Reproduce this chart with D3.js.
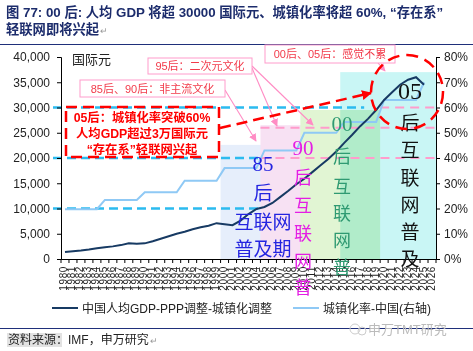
<!DOCTYPE html>
<html><head><meta charset="utf-8">
<script src="https://cdn.jsdelivr.net/npm/d3@7"></script>
<style>
html,body{margin:0;padding:0;background:#fff;}
svg{display:block;font-family:"Liberation Sans","Noto Sans CJK SC",sans-serif;}
</style></head>
<body><svg id="c" width="473" height="351"></svg>
<script>
// ---- data ----
const years = ["1980","1981","1982","1983","1984","1985","1986","1987","1988","1989",
"1990","1991","1992","1993","1994","1995","1996","1997","1998","1999",
"2000","2001","2002","2003","2004","2005","2006","2007","2008","2009",
"2010","2011","2012","2013","2014","2015","2016","2017","2018","2019",
"2020","2021","2022","2023","2024","2025","2026"];
const gdp = [1400,1550,1700,1900,2150,2350,2500,2750,3100,3000,
3100,3500,4000,4500,5000,5400,5900,6300,6600,7100,
6900,6700,7600,8900,9900,10300,11100,12300,13500,14800,
15900,17200,18500,19800,21300,23000,24600,26300,27800,29500,
31500,33000,34500,35500,36000,34500];
const urban = [0.197,0.197,0.197,0.197,0.197,0.234,0.234,0.234,0.234,0.234,
0.264,0.264,0.264,0.264,0.264,0.310,0.310,0.310,0.310,0.310,
0.360,0.360,0.360,0.360,0.360,0.430,0.430,0.430,0.430,0.430,
0.500,0.500,0.500,0.500,0.500,0.543,0.543,0.543,0.543,0.543,
0.630,0.630,0.630,0.630,0.630,0.700];
const leftTicks = [0,5000,10000,15000,20000,25000,30000,35000,40000];
const rightTicks = [0,0.1,0.2,0.3,0.4,0.5,0.6,0.7,0.8];
const eraName = ["85","90","00","05"];
const eraStart = ["2000","2005","2010","2015"];
const eraEnd = ["2004","2009","2019","2026"];
const eraTop = [22600,26500,29500,37000];
const cyanLevels = [30000,20000,10000];
const pinkLevels = [30000,26000,20000];
const seriesNames = ["中国人均GDP-PPP调整-城镇化调整","城镇化率-中国(右轴)"];

// ---- setup ----
const svg = d3.select("#c");
const L=61, R=436, T=57, B=259;
const x = d3.scaleBand().domain(years).range([L,R]).padding(0);
const yL = d3.scaleLinear().domain([0,40000]).range([B,T]);
const yR = d3.scaleLinear().domain([0,0.8]).range([B,T]);
const xl = y => x(y);
const xr = y => x(y)+x.bandwidth();
const xc = y => x(y)+x.bandwidth()/2;

const navy="#1f2f7a";
// title
const title = svg.append("g").attr("font-weight","bold").attr("fill","#1c2c6c").attr("font-size",13.3);
title.append("text").attr("x",6).attr("y",17).text("图 77: 00 后: 人均 GDP 将超 30000 国际元、城镇化率将超 60%, “存在系”");
title.append("text").attr("x",6).attr("y",34).text("轻联网即将兴起");
svg.append("text").attr("x",100).attr("y",34).attr("font-size",9).attr("fill","#999").text("↵");
svg.append("line").attr("x1",0).attr("x2",473).attr("y1",44.5).attr("y2",44.5).attr("stroke",navy).attr("stroke-width",1.2);

// era bands
const bandFill = ["#e6eefb","#f7e1f3","#e1f5d3","#c9f6f5"];
const order=[0,1,3,2];
order.forEach(i=>{
  svg.append("rect").attr("x",xl(eraStart[i])).attr("width",xr(eraEnd[i])-xl(eraStart[i]))
    .attr("y",yL(eraTop[i])).attr("height",B-yL(eraTop[i]))
    .attr("fill",bandFill[i]).style("mix-blend-mode","multiply");
});

// dashed reference lines
const cyanEnd=[xl("2019")-8, xr("2004"), xr("2004")];
cyanLevels.forEach((v,i)=>{
  svg.append("line").attr("x1",53).attr("x2",cyanEnd[i]).attr("y1",yL(v)).attr("y2",yL(v))
   .attr("stroke","#2bbbef").attr("stroke-width",2.5).attr("stroke-dasharray","9,5");
});
const pinkStart=[xl("2020"), xl("2005"), xl("2005")];
pinkLevels.forEach((v,i)=>{
  svg.append("line").attr("x1",pinkStart[i]).attr("x2",R).attr("y1",yL(v)).attr("y2",yL(v))
   .attr("stroke","#ff9ccc").attr("stroke-width",2).attr("stroke-dasharray","9,6");
});

// axes
const axL = svg.append("g").attr("transform",`translate(${L},0)`)
  .call(d3.axisLeft(yL).tickValues(leftTicks).tickFormat(d3.format(",")).tickSize(4).tickPadding(7));
const axR = svg.append("g").attr("transform",`translate(${R},0)`)
  .call(d3.axisRight(yR).tickValues(rightTicks).tickFormat(d3.format(".0%")).tickSize(4).tickPadding(4));
[axL,axR].forEach(a=>{
  a.select(".domain").attr("stroke","#000");
  a.selectAll("line").attr("stroke","#000");
  a.selectAll("text").attr("font-size",12).attr("fill","#222").attr("font-family","Liberation Sans, sans-serif");
});
svg.append("line").attr("x1",L).attr("x2",R).attr("y1",B+0.5).attr("y2",B+0.5).attr("stroke","#000");
svg.append("g").selectAll("line").data(years.concat(["end"])).join("line")
  .attr("x1",d=>d==="end"?R:xl(d)).attr("x2",d=>d==="end"?R:xl(d))
  .attr("y1",B).attr("y2",B+4).attr("stroke","#000");
svg.append("g").selectAll("text").data(years).join("text")
  .attr("transform",d=>`translate(${xc(d)+2.5},${B+7}) rotate(-90)`)
  .attr("text-anchor","end").attr("font-size",10).attr("fill","#222")
  .attr("letter-spacing",0.6).text(d=>d);

svg.append("text").attr("x",72).attr("y",64).attr("font-size",13).attr("fill","#222").text("国际元");

// lines
const gdpLine = d3.line().x((d,i)=>xc(years[i])).y(d=>yL(d));
const urbLine = d3.line().x((d,i)=>xc(years[i])).y(d=>yR(d));
svg.append("path").datum(urban).attr("d",urbLine).attr("fill","none").attr("stroke","#8fc9f5").attr("stroke-width",2);
svg.append("path").datum(gdp).attr("d",gdpLine).attr("fill","none").attr("stroke","#173a63").attr("stroke-width",2);

// era column labels
const colTexts = [
 {c:"#2424e0",x:263,fs:19,items:[["85",171,21],["后",200],["互联网",229],["普及期",256]]},
 {c:"#e41ee4",x:303,fs:18,items:[["90",155,21],["后",184],["互",212],["联",240],["网",268],["普",294]]},
 {c:"#2f9a72",x:342,fs:18,items:[["00",131,21],["后",163],["互",193],["联",220],["网",247],["普",274]]},
 {c:"#111",x:410,fs:19,items:[["05",99,24],["后",130],["互",157],["联",185],["网",212],["普",239],["及",266]]}
];
colTexts.forEach(col=>{
  col.items.forEach(it=>{
    svg.append("text").attr("x",col.x).attr("y",it[1]).attr("text-anchor","middle")
      .attr("font-size",it[2]||col.fs).attr("fill",col.c)
      .attr("font-family","Liberation Serif, Noto Sans CJK SC, serif").text(it[0]);
  });
});

// defs arrows
const defs=svg.append("defs");
defs.append("marker").attr("id","ap").attr("viewBox","0 0 10 10").attr("refX",9).attr("refY",5)
 .attr("markerWidth",7).attr("markerHeight",7).attr("orient","auto")
 .append("path").attr("d","M0,0L10,5L0,10z").attr("fill","#ff8cc4");
defs.append("marker").attr("id","ar").attr("viewBox","0 0 10 10").attr("refX",9).attr("refY",5)
 .attr("markerWidth",4).attr("markerHeight",4).attr("orient","auto")
 .append("path").attr("d","M0,0L10,5L0,10z").attr("fill","#ff0000");

// pink arrows
const pinkArrows=[[225,90,256,141],[252,68,277,126],[252,66,313,125],[378,63,385,71]];
pinkArrows.forEach(a=>{
  svg.append("line").attr("x1",a[0]).attr("y1",a[1]).attr("x2",a[2]).attr("y2",a[3])
   .attr("stroke","#ff8cc4").attr("stroke-width",1.1).attr("marker-end","url(#ap)");
});

// annotation boxes
function box(x0,y0,w,h,txt){
  svg.append("rect").attr("x",x0).attr("y",y0).attr("width",w).attr("height",h)
   .attr("fill","#fff").attr("stroke","#ff9ccc").attr("stroke-width",1);
  svg.append("text").attr("x",x0+w/2).attr("y",y0+h/2+4).attr("text-anchor","middle")
   .attr("font-size",11).attr("fill","#f23a4a").text(txt);
}
box(148,58,104,16,"95后：二次元文化");
box(80,80,145,17,"85后、90后：非主流文化");
box(265,45,130,18,"00后、05后：感觉不累");

// red dashed box + arrow + ellipse
svg.append("rect").attr("x",66).attr("y",107).attr("width",153).attr("height",50)
  .attr("fill","none").attr("stroke","#ff0000").attr("stroke-width",2.5).attr("stroke-dasharray","11,6");
const rt = svg.append("g").attr("fill","#ff0000").attr("font-weight","bold").attr("font-size",12.3).attr("text-anchor","middle");
rt.append("text").attr("x",142).attr("y",122).text("05后：城镇化率突破60%");
rt.append("text").attr("x",142).attr("y",138).text("人均GDP超过3万国际元");
rt.append("text").attr("x",142).attr("y",154).text("“存在系”轻联网兴起");
svg.append("line").attr("x1",220).attr("y1",128).attr("x2",371).attr("y2",93)
  .attr("stroke","#ff0000").attr("stroke-width",2.5).attr("stroke-dasharray","11,6").attr("marker-end","url(#ar)");
svg.append("ellipse").attr("cx",407).attr("cy",92).attr("rx",36).attr("ry",37)
  .attr("fill","none").attr("stroke","#ff0000").attr("stroke-width",2.5).attr("stroke-dasharray","12,7");

// legend
const lg = svg.append("g").attr("font-size",12).attr("fill","#222");
lg.append("line").attr("x1",52).attr("x2",78).attr("y1",308).attr("y2",308).attr("stroke","#173a63").attr("stroke-width",2);
lg.append("text").attr("x",82).attr("y",312.5).text(seriesNames[0]);
lg.append("line").attr("x1",293).attr("x2",319).attr("y1",308).attr("y2",308).attr("stroke","#8fc9f5").attr("stroke-width",2);
lg.append("text").attr("x",323).attr("y",312.5).text(seriesNames[1]);

// bottom
svg.append("line").attr("x1",0).attr("x2",473).attr("y1",328.5).attr("y2",328.5).attr("stroke",navy).attr("stroke-width",1.2);
svg.append("text").attr("x",368).attr("y",334).attr("font-size",13).attr("fill","#bbb").text("申万TMT研究");
svg.append("circle").attr("cx",355).attr("cy",329).attr("r",5).attr("fill","none").attr("stroke","#ccc");
svg.append("circle").attr("cx",362).attr("cy",331).attr("r",4).attr("fill","none").attr("stroke","#ccc");
svg.append("rect").attr("x",7).attr("y",333).attr("width",55).attr("height",14).attr("fill","#e2e2e2");
svg.append("text").attr("x",8).attr("y",344).attr("font-size",12).attr("fill","#222").text("资料来源：IMF，申万研究");
svg.append("text").attr("x",150).attr("y",344).attr("font-size",9).attr("fill","#999").text("↵");
</script></body></html>
